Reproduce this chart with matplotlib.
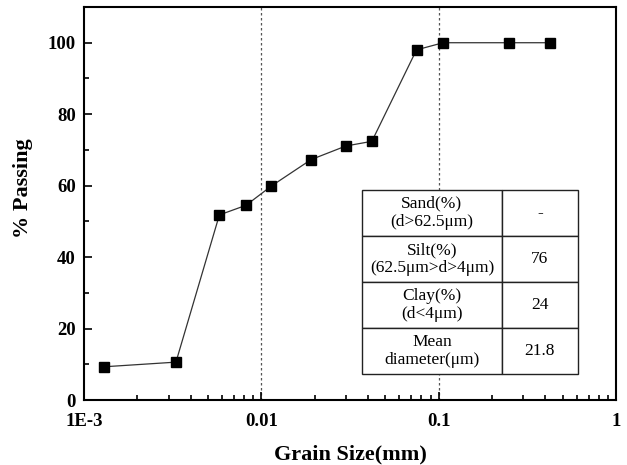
import matplotlib
matplotlib.use("Agg")
import matplotlib.pyplot as plt
from matplotlib.ticker import FixedLocator, LogLocator, NullFormatter, MultipleLocator

plt.rcParams['font.family'] = ['Liberation Serif', 'DejaVu Serif']
plt.rcParams['mathtext.fontset'] = 'stix'

# grain size distribution
grain_size = [0.0013, 0.0033, 0.0058, 0.0082, 0.0114, 0.0191, 0.030, 0.042, 0.075, 0.106, 0.25, 0.425]
passing = [9.3, 10.6, 51.8, 54.5, 59.9, 67.3, 71.1, 72.4, 98.0, 100, 100, 100]

table_labels = ["Sand(%)\n(d>62.5\u03bcm)", "Silt(%)\n(62.5\u03bcm>d>4\u03bcm)",
                "Clay(%)\n(d<4\u03bcm)", "Mean\ndiameter(\u03bcm)"]
table_values = ["-", "76", "24", "21.8"]

boundaries = [0.01, 0.1]

fig = plt.figure(figsize=(6.27, 4.65), dpi=100)
ax = fig.add_axes([84/627, 65/465, 532/627, 393/465])

for b in boundaries:
    ax.axvline(b, color='#555555', linestyle=(0, (2, 2)), linewidth=0.9, zorder=1)

ax.plot(grain_size, passing, color='#333333', linewidth=0.9, marker='s',
        markersize=6.5, markerfacecolor='black', markeredgecolor='black', zorder=3)

ax.set_xscale('log')
ax.set_xlim(0.001, 1)
ax.set_ylim(0, 110)
ax.xaxis.set_major_locator(FixedLocator([0.001, 0.01, 0.1, 1]))
ax.set_xticklabels(['1E-3', '0.01', '0.1', '1'])
ax.xaxis.set_minor_locator(LogLocator(base=10, subs=range(2, 10)))
ax.xaxis.set_minor_formatter(NullFormatter())
ax.yaxis.set_major_locator(MultipleLocator(20))
ax.yaxis.set_minor_locator(MultipleLocator(10))

ax.tick_params(which='both', direction='in', top=False, right=False, width=1.2)
ax.tick_params(which='major', length=6, labelsize=13.5, pad=6)
ax.tick_params(axis='x', which='major', pad=9)
ax.tick_params(which='minor', length=3.5)
for lbl in ax.get_xticklabels() + ax.get_yticklabels():
    lbl.set_fontweight('bold')
for s in ax.spines.values():
    s.set_linewidth(1.5)

ax.set_xlabel('Grain Size(mm)', fontsize=16, fontweight='bold', labelpad=11)
ax.set_ylabel('% Passing', fontsize=16, fontweight='bold')
ax.yaxis.set_label_coords(-0.096, 0.54)

cells = [[l, v] for l, v in zip(table_labels, table_values)]
tbl = ax.table(cellText=cells, cellLoc='center', colWidths=[0.645 * 0.406, 0.355 * 0.406],
               bbox=[0.523, 0.0654, 0.406, 0.469], zorder=4)
tbl.auto_set_font_size(False)
tbl.set_fontsize(12.5)
for (r, c), cell in tbl.get_celld().items():
    cell.set_linewidth(1.0)
    cell.set_edgecolor('#222222')
    cell.set_facecolor('white')

fig.savefig('out.png', dpi=100)
